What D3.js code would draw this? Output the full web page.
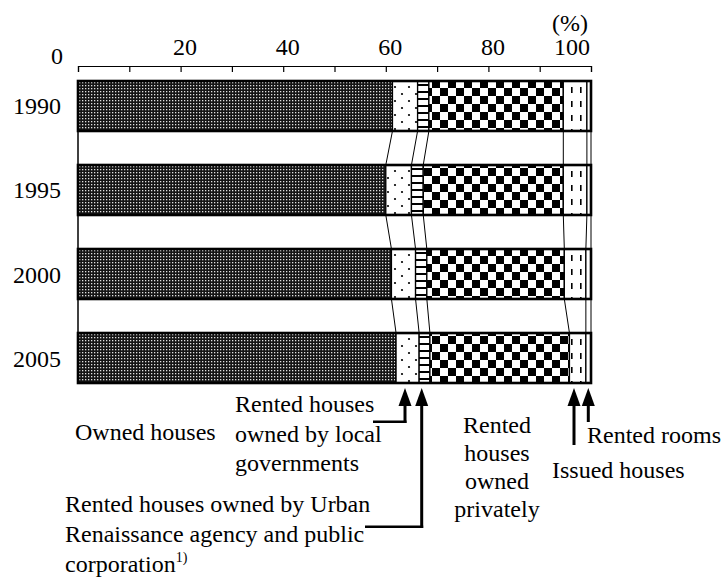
<!DOCTYPE html>
<html><head><meta charset="utf-8">
<script src="https://cdn.jsdelivr.net/npm/d3@7"></script>
<style>
html,body{margin:0;padding:0;background:#fff;}
text{font-family:"Liberation Serif","Times New Roman",serif;fill:#000;}
</style>
</head><body>
<svg id="chart" width="723" height="582"></svg>
<script>
// ---- data ----
const years = ["1990", "1995", "2000", "2005"];
const ownedHouses = [61.3, 60.0, 61.1, 62.0];
const localGovRented = [4.9, 5.0, 4.7, 4.5];
const urbanRented = [2.2, 2.3, 2.2, 2.1];
const privateRented = [26.2, 27.3, 26.8, 27.2];
const issuedHouses = [4.6, 4.6, 4.2, 3.2];
const rentedRooms = [0.8, 0.8, 1.0, 1.0];
const tickValues = [0, 10, 20, 30, 40, 50, 60, 70, 80, 90, 100];
const tickLabelValues = [0, 20, 40, 60, 80, 100];
const tickLabels = ["0", "20", "40", "60", "80", "100"];

const seriesList = [ownedHouses, localGovRented, urbanRented, privateRented, issuedHouses, rentedRooms];
const seriesFill = ["url(#pOwned)", "url(#pDots)", "url(#pHLines)", "url(#pCheck)", "url(#pDash)", "#fff"];

const svg = d3.select("#chart");
const FS = 24;
const FONT = "'Liberation Serif', 'Times New Roman', serif";

// ---- patterns ----
const defs = svg.append("defs");
let p = defs.append("pattern").attr("id", "pOwned").attr("patternUnits", "userSpaceOnUse").attr("width", 3).attr("height", 3);
p.append("rect").attr("width", 3).attr("height", 3).attr("fill", "#151515");
p.append("rect").attr("x", 1).attr("y", 1).attr("width", 1.3).attr("height", 1.3).attr("fill", "#e0e0e0");

p = defs.append("pattern").attr("id", "pDots").attr("patternUnits", "userSpaceOnUse").attr("width", 14).attr("height", 14);
p.append("rect").attr("width", 14).attr("height", 14).attr("fill", "#fff");
p.append("circle").attr("cx", 3).attr("cy", 3).attr("r", 1.1).attr("fill", "#000");
p.append("circle").attr("cx", 10).attr("cy", 10).attr("r", 1.1).attr("fill", "#000");

p = defs.append("pattern").attr("id", "pHLines").attr("patternUnits", "userSpaceOnUse").attr("width", 4).attr("height", 7);
p.append("rect").attr("width", 4).attr("height", 7).attr("fill", "#fff");
p.append("rect").attr("y", 0).attr("width", 4).attr("height", 2).attr("fill", "#000");

p = defs.append("pattern").attr("id", "pCheck").attr("patternUnits", "userSpaceOnUse").attr("width", 16).attr("height", 16);
p.append("rect").attr("width", 16).attr("height", 16).attr("fill", "#fff");
p.append("rect").attr("x", 0).attr("y", 0).attr("width", 8).attr("height", 8).attr("fill", "#000");
p.append("rect").attr("x", 8).attr("y", 8).attr("width", 8).attr("height", 8).attr("fill", "#000");

p = defs.append("pattern").attr("id", "pDash").attr("patternUnits", "userSpaceOnUse").attr("width", 9).attr("height", 14);
p.append("rect").attr("width", 9).attr("height", 14).attr("fill", "#fff");
p.append("rect").attr("x", 4).attr("y", 3).attr("width", 1.6).attr("height", 6).attr("fill", "#000");

// ---- scales ----
const x = d3.scaleLinear().domain([0, 100]).range([78, 591]);
const y = d3.scaleBand().domain(years).range([81, 383]).paddingInner(0.405).paddingOuter(0);
const bw = y.bandwidth();

// ---- top axis ----
const axisY = 66;
const axis = d3.axisBottom(x).tickValues(tickValues).tickFormat("").tickSizeInner(6).tickSizeOuter(6);
const gAxis = svg.append("g").attr("transform", `translate(0,${axisY})`).call(axis);
gAxis.selectAll("path,line").attr("stroke", "#000").attr("stroke-width", 1.2);

svg.append("g").selectAll("text").data(tickLabelValues).join("text")
  .attr("font-family", FONT).attr("font-size", FS)
  .attr("x", (d) => d === 0 ? x(d) - 15 : (d === 100 ? x(d) - 1 : x(d) + 4.5))
  .attr("y", (d) => d === 0 ? 64 : 55)
  .attr("text-anchor", (d) => d === 0 ? "end" : (d === 100 ? "end" : "middle"))
  .text((d, i) => tickLabels[i]);
svg.append("text").attr("font-family", FONT).attr("font-size", FS).attr("x", 588).attr("y", 31).attr("text-anchor", "end").text("(%)");

// ---- stacked data ----
const rows = years.map((yr, i) => {
  let acc = 0;
  const segs = seriesList.map((s, k) => { const a = acc; acc += s[i]; return { k, x0: a, x1: acc }; });
  return { year: yr, segs };
});

// connectors
const gConn = svg.append("g");
for (let i = 0; i < rows.length - 1; i++) {
  const a = rows[i], b = rows[i + 1];
  for (let k = 0; k < seriesList.length; k++) {
    gConn.append("line")
      .attr("x1", x(a.segs[k].x1)).attr("y1", y(a.year) + bw)
      .attr("x2", x(b.segs[k].x1)).attr("y2", y(b.year))
      .attr("stroke", "#000").attr("stroke-width", 1);
  }
}
// y axis line
svg.append("line").attr("x1", x(0)).attr("x2", x(0)).attr("y1", y(years[0])).attr("y2", y(years[years.length - 1]) + bw)
  .attr("stroke", "#000").attr("stroke-width", 1.5);

// bars
const gBars = svg.append("g");
rows.forEach((r) => {
  const g = gBars.append("g");
  g.selectAll("rect.seg").data(r.segs).join("rect").attr("class", "seg")
    .attr("x", (d) => x(d.x0)).attr("width", (d) => x(d.x1) - x(d.x0))
    .attr("y", y(r.year)).attr("height", bw)
    .attr("fill", (d) => seriesFill[d.k])
    .attr("stroke", "#000").attr("stroke-width", 1.3);
  g.append("rect").attr("x", x(0)).attr("width", x(100) - x(0))
    .attr("y", y(r.year)).attr("height", bw)
    .attr("fill", "none").attr("stroke", "#000").attr("stroke-width", 2.6);
});

// year labels
svg.append("g").selectAll("text").data(years).join("text")
  .attr("font-family", FONT).attr("font-size", FS).attr("text-anchor", "end")
  .attr("x", 61).attr("y", (d) => y(d) + bw / 2 + 8.5).text((d) => d);

// ---- annotations ----
const gAnn = svg.append("g");
function arrow(xp, tipY, endY) {
  gAnn.append("path").attr("d", `M${xp},${tipY} L${xp - 6.5},${tipY + 18} L${xp + 6.5},${tipY + 18} Z`).attr("fill", "#000");
  gAnn.append("line").attr("x1", xp).attr("x2", xp).attr("y1", tipY + 16).attr("y2", endY)
    .attr("stroke", "#000").attr("stroke-width", 3);
}
const tipY = 388;
arrow(405, tipY, 423);
gAnn.append("line").attr("x1", 373).attr("x2", 406.5).attr("y1", 421.7).attr("y2", 421.7).attr("stroke", "#000").attr("stroke-width", 2.5);
arrow(421.7, tipY, 528);
gAnn.append("line").attr("x1", 365).attr("x2", 423.2).attr("y1", 526.7).attr("y2", 526.7).attr("stroke", "#000").attr("stroke-width", 2.5);
arrow(574, tipY, 445);
arrow(588.3, tipY, 422);

function label(lines, xp, y0, dy, anchor) {
  lines.forEach((t, i) => gAnn.append("text").attr("font-family", FONT).attr("font-size", FS)
    .attr("x", xp).attr("y", y0 + i * (dy || 0))
    .attr("text-anchor", anchor || "start").text(t));
}
label(["Owned houses"], 75, 440);
label(["Rented houses", "owned by local", "governments"], 235, 412, 29.5);
label(["Rented", "houses", "owned", "privately"], 497, 433, 28, "middle");
label(["Rented rooms"], 587, 443);
label(["Issued houses"], 552, 478);
label(["Rented houses owned by Urban", "Renaissance agency and public"], 65, 512, 30);
const corp = gAnn.append("text").attr("font-family", FONT).attr("font-size", FS).attr("x", 65).attr("y", 572);
corp.append("tspan").text("corporation");
corp.append("tspan").attr("font-size", 14).attr("dy", -10).text("1)");
</script>
</body></html>
